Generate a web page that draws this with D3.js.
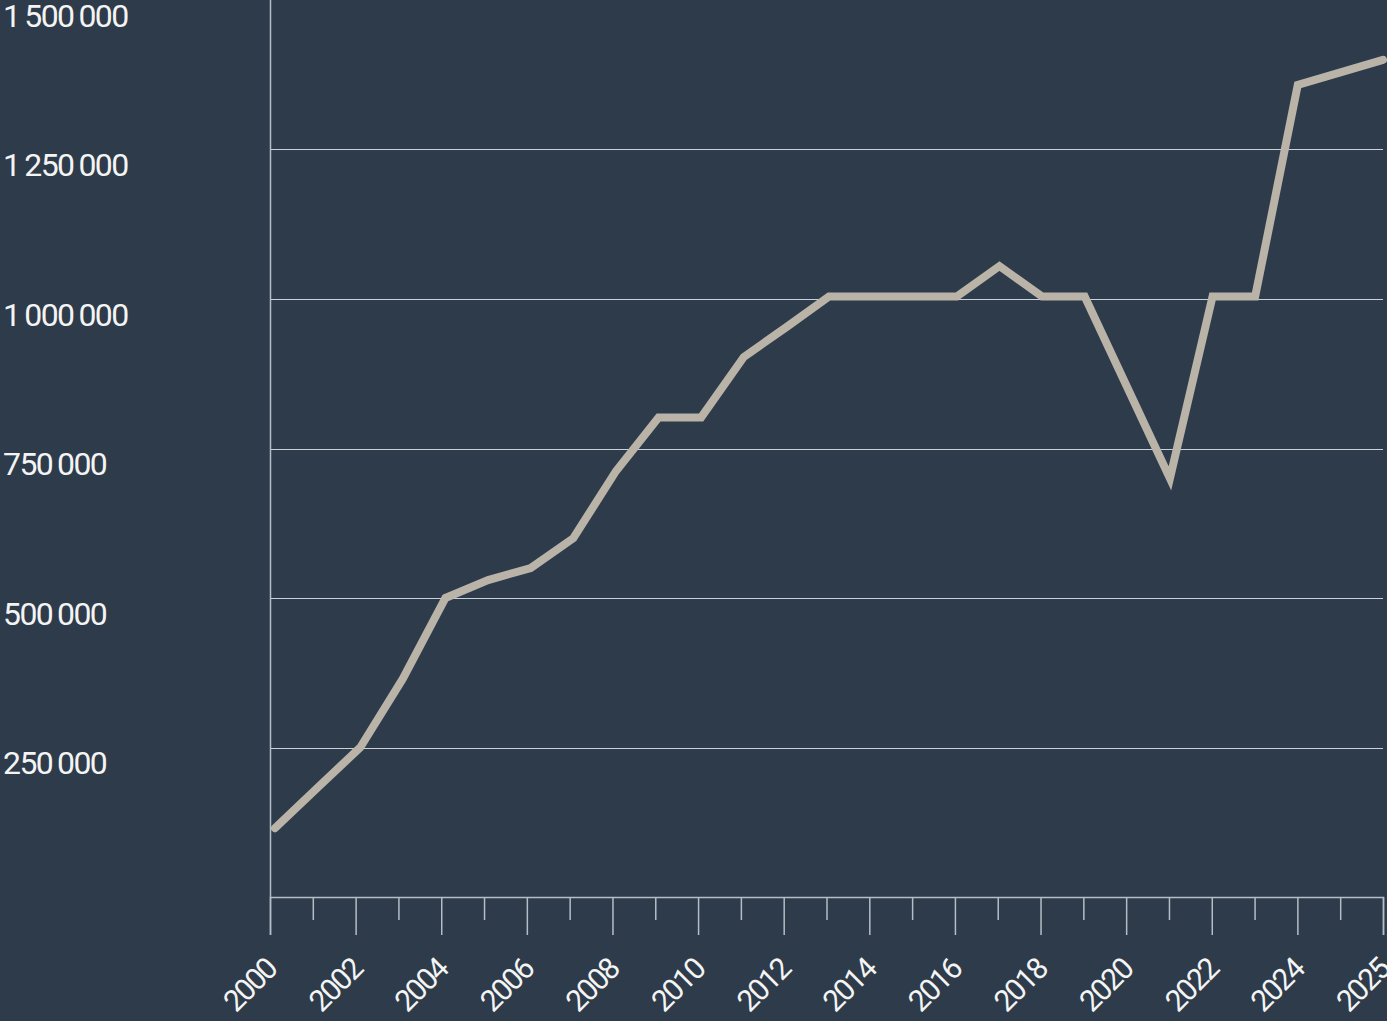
<!DOCTYPE html>
<html>
<head>
<meta charset="utf-8">
<script src="https://cdn.jsdelivr.net/npm/d3@7"></script>
<style>
  html, body { margin: 0; padding: 0; background: #2e3b4a; }
  svg { display: block; }
  .yAxis text, .xAxis text { font-family: Roboto, "DejaVu Sans", sans-serif; fill: #f4f4f4; }
</style>
</head>
<body>
<svg id="chart"></svg>
<script>
// values
const years = [2000, 2001, 2002, 2003, 2004, 2005, 2006, 2007, 2008, 2009,
  2010, 2011, 2012, 2013, 2014, 2015, 2016, 2017, 2018, 2019,
  2020, 2021, 2022, 2023, 2024, 2025];
const values = [115000, 183000, 250000, 365000, 500000, 530000, 550000, 600000, 712000, 802000,
  802000, 903000, 953000, 1004000, 1004000, 1004000, 1004000, 1055000, 1004000, 1004000,
  852000, 700000, 1004000, 1004000, 1358000, 1400000];

const yTicks = [250000, 500000, 750000, 1000000, 1250000, 1500000];
// one tick per slot, the last slot carries the latest year
const xTicks = [2000, 2001, 2002, 2003, 2004, 2005, 2006, 2007, 2008, 2009,
  2010, 2011, 2012, 2013, 2014, 2015, 2016, 2017, 2018, 2019,
  2020, 2021, 2022, 2023, 2024, 2025, 2026];
const xTickLabels = ["2000", "", "2002", "", "2004", "", "2006", "", "2008", "",
  "2010", "", "2012", "", "2014", "", "2016", "", "2018", "",
  "2020", "", "2022", "", "2024", "", "2025"];

const width = 1387;
const height = 1021;
const marginLeft = 270;
const marginRight = 4;
const marginTop = 0;
const lineInset = 5;
const axisY = 897;

const lineColor = "#b9b3a8";
const gridColor = "#c8d2da";
const axisColor = "#b3bec7";

const chart = d3.select("#chart")
  .attr("width", width)
  .attr("height", height);

const x = d3.scaleLinear()
  .domain([xTicks[0], xTicks[xTicks.length - 1]])
  .range([marginLeft, width - marginRight]);

// the series starts a few px inside the y axis
const xLine = x.copy().range([marginLeft + lineInset, width - marginRight]);

const y = d3.scaleLinear()
  .domain([0, yTicks[yTicks.length - 1]])
  .range([axisY, marginTop]);

// latest figure sits at the end of the axis, like the source
const lastYear = years[years.length - 1];
const slot = yr => yr === lastYear ? xTicks[xTicks.length - 1] : yr;

const fmt = v => d3.format(",")(v).replace(/,/g, "\u2009");

// grid lines (the top one falls on the edge and is not seen)
chart.append("g")
  .attr("class", "grid")
  .selectAll("line")
  .data(yTicks.slice(0, -1))
  .join("line")
  .attr("x1", marginLeft)
  .attr("x2", width - marginRight)
  .attr("y1", d => Math.round(y(d)) + 0.5)
  .attr("y2", d => Math.round(y(d)) + 0.5)
  .attr("stroke", gridColor)
  .attr("stroke-width", 1);

// y axis: vertical line plus labels hanging under each grid line
const yAxis = chart.append("g")
  .attr("class", "yAxis")
  .attr("transform", `translate(${marginLeft},0)`)
  .call(d3.axisLeft(y).tickValues(yTicks).tickSize(0).tickFormat(fmt));
yAxis.select(".domain")
  .attr("stroke", axisColor)
  .attr("stroke-width", 1.5)
  .attr("d", `M0.5,${axisY}V0`);
yAxis.selectAll("text")
  .attr("x", -marginLeft + 3)
  .attr("dy", null)
  .attr("y", 26)
  .attr("text-anchor", "start")
  .style("font-size", "32px")
  .style("letter-spacing", "-1.6px");

// x axis
const xAxis = chart.append("g")
  .attr("class", "xAxis")
  .attr("transform", `translate(0,${axisY})`)
  .call(d3.axisBottom(x).tickValues(xTicks).tickSize(38).tickFormat((d, i) => xTickLabels[i]));
xAxis.select(".domain")
  .attr("stroke", axisColor)
  .attr("stroke-width", 1.5);
xAxis.selectAll(".tick line")
  .attr("stroke", axisColor)
  .attr("stroke-width", 1.5)
  .attr("y2", (d, i) => xTickLabels[i] ? 38 : 23);
xAxis.selectAll(".tick text")
  .attr("y", 0)
  .attr("dy", null)
  .attr("text-anchor", "end")
  .attr("transform", "translate(8,74) rotate(-45)")
  .style("font-size", "30px")
  .style("letter-spacing", "-1.8px");

// the series
const line = d3.line()
  .x(d => xLine(slot(d.year)))
  .y(d => y(d.value));

chart.append("path")
  .datum(years.map((yr, i) => ({ year: yr, value: values[i] })))
  .attr("fill", "none")
  .attr("stroke", lineColor)
  .attr("stroke-width", 8)
  .attr("stroke-linecap", "round")
  .attr("stroke-linejoin", "miter")
  .attr("d", line);
</script>
</body>
</html>
